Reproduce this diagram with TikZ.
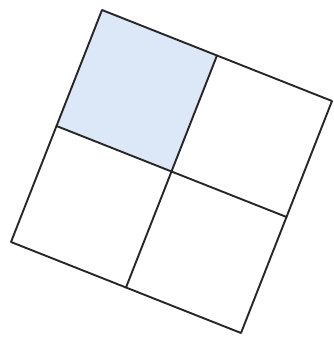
\documentclass[tikz,border=0pt]{standalone}
\usetikzlibrary{calc}
\begin{document}
\begin{tikzpicture}[x=1pt,y=1pt,
  gridline/.style={draw=black!85, line width=1.9pt, line join=round, line cap=round}]
\useasboundingbox (0,0) rectangle (334,338);
\coordinate (T) at (102,328);
\coordinate (R) at (332,237);
\coordinate (L) at (11,96);
\coordinate (B) at (241,5);
\coordinate (TR) at ($(T)!0.5!(R)$);
\coordinate (TL) at ($(T)!0.5!(L)$);
\coordinate (RB) at ($(R)!0.5!(B)$);
\coordinate (LB) at ($(L)!0.5!(B)$);
\coordinate (C) at ($(T)!0.5!(B)$);
\fill[fill={rgb,255:red,220;green,232;blue,247}] (T) -- (TR) -- (C) -- (TL) -- cycle;
\draw[gridline] (T) -- (R) -- (B) -- (L) -- cycle;
\draw[gridline] (TR) -- (LB);
\draw[gridline] (TL) -- (RB);
\end{tikzpicture}
\end{document}
